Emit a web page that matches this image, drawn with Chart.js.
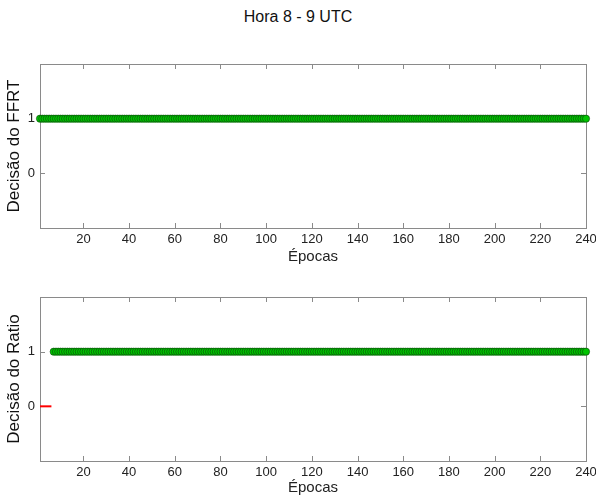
<!DOCTYPE html>
<html>
<head>
<meta charset="utf-8">
<script src="https://cdn.jsdelivr.net/npm/chart.js@4"></script>
<style>
  body { margin: 0; background: #fff; width: 596px; height: 495px; position: relative; overflow: hidden; }
  #titulo { position: absolute; left: 0; top: 8px; width: 596px; text-align: center;
            font: 16px "Liberation Sans", Arial, sans-serif; color: #111; }
  canvas { position: absolute; left: 0; }
</style>
</head>
<body>
<div id="titulo">Hora 8 - 9 UTC</div>
<canvas id="ffrt" width="596" height="270" style="top:0px"></canvas>
<canvas id="ratio" width="596" height="225" style="top:270px"></canvas>
<script>
// epochs 1..240
const epocas = Array.from({ length: 240 }, (_, i) => i + 1);

const decisaoFFRT = [
  1,1,1,1,1,1,1,1,1,1, 1,1,1,1,1,1,1,1,1,1, 1,1,1,1,1,1,1,1,1,1, 1,1,1,1,1,1,1,1,1,1,
  1,1,1,1,1,1,1,1,1,1, 1,1,1,1,1,1,1,1,1,1, 1,1,1,1,1,1,1,1,1,1, 1,1,1,1,1,1,1,1,1,1,
  1,1,1,1,1,1,1,1,1,1, 1,1,1,1,1,1,1,1,1,1, 1,1,1,1,1,1,1,1,1,1, 1,1,1,1,1,1,1,1,1,1,
  1,1,1,1,1,1,1,1,1,1, 1,1,1,1,1,1,1,1,1,1, 1,1,1,1,1,1,1,1,1,1, 1,1,1,1,1,1,1,1,1,1,
  1,1,1,1,1,1,1,1,1,1, 1,1,1,1,1,1,1,1,1,1, 1,1,1,1,1,1,1,1,1,1, 1,1,1,1,1,1,1,1,1,1,
  1,1,1,1,1,1,1,1,1,1, 1,1,1,1,1,1,1,1,1,1, 1,1,1,1,1,1,1,1,1,1, 1,1,1,1,1,1,1,1,1,1
];

const decisaoRatio = [
  0,0,0,0,0,0,1,1,1,1, 1,1,1,1,1,1,1,1,1,1, 1,1,1,1,1,1,1,1,1,1, 1,1,1,1,1,1,1,1,1,1,
  1,1,1,1,1,1,1,1,1,1, 1,1,1,1,1,1,1,1,1,1, 1,1,1,1,1,1,1,1,1,1, 1,1,1,1,1,1,1,1,1,1,
  1,1,1,1,1,1,1,1,1,1, 1,1,1,1,1,1,1,1,1,1, 1,1,1,1,1,1,1,1,1,1, 1,1,1,1,1,1,1,1,1,1,
  1,1,1,1,1,1,1,1,1,1, 1,1,1,1,1,1,1,1,1,1, 1,1,1,1,1,1,1,1,1,1, 1,1,1,1,1,1,1,1,1,1,
  1,1,1,1,1,1,1,1,1,1, 1,1,1,1,1,1,1,1,1,1, 1,1,1,1,1,1,1,1,1,1, 1,1,1,1,1,1,1,1,1,1,
  1,1,1,1,1,1,1,1,1,1, 1,1,1,1,1,1,1,1,1,1, 1,1,1,1,1,1,1,1,1,1, 1,1,1,1,1,1,1,1,1,1
];

const xTicks = [20, 40, 60, 80, 100, 120, 140, 160, 180, 200, 220, 240];
const yTicks = [0, 1];

const FONT = '"Liberation Sans", Arial, sans-serif';
const AXIS = '#8a8a8a';

// box + inward tick marks, drawn under the data like matlab
const boxPlugin = {
  id: 'box',
  beforeDatasetsDraw(chart) {
    const { ctx, chartArea: a, scales } = chart;
    ctx.save();
    ctx.strokeStyle = AXIS;
    ctx.lineWidth = 1;
    ctx.strokeRect(a.left + 0.5, a.top + 0.5, a.right - a.left, a.bottom - a.top);
    ctx.beginPath();
    xTicks.forEach(v => {
      const px = Math.round(scales.x.getPixelForValue(v)) + 0.5;
      ctx.moveTo(px, a.bottom); ctx.lineTo(px, a.bottom - 5);
      ctx.moveTo(px, a.top); ctx.lineTo(px, a.top + 5);
    });
    yTicks.forEach(v => {
      const py = Math.round(scales.y.getPixelForValue(v)) + 0.5;
      ctx.moveTo(a.left, py); ctx.lineTo(a.left + 5, py);
      ctx.moveTo(a.right, py); ctx.lineTo(a.right - 5, py);
    });
    ctx.stroke();
    ctx.restore();
  }
};

function pts(values, keep) {
  const out = [];
  values.forEach((v, i) => { if (keep(v)) out.push({ x: epocas[i], y: v }); });
  return out;
}

function greenSet(data) {
  return {
    type: 'scatter',
    data: data,
    showLine: false,
    pointStyle: 'circle',
    pointRadius: 3.6,
    pointBackgroundColor: '#00c400',
    pointBorderColor: '#0b3d0b',
    pointBorderWidth: 0.6,
    clip: false
  };
}

function makeChart(id, datasets, yTitle, pad, xHeight, titlePadBottom) {
  return new Chart(document.getElementById(id), {
    type: 'scatter',
    data: { datasets: datasets },
    plugins: [boxPlugin],
    options: {
      responsive: false,
      animation: false,
      events: [],
      layout: { padding: pad },
      plugins: { legend: { display: false }, tooltip: { enabled: false } },
      scales: {
        x: {
          type: 'linear', min: 1, max: 240,
          grid: { display: false, drawTicks: false },
          border: { display: false },
          afterBuildTicks: s => { s.ticks = xTicks.map(v => ({ value: v })); },
          afterFit: s => { s.height = xHeight; s.paddingLeft = 0; s.paddingRight = 0; },
          ticks: { padding: 4, color: '#222', maxRotation: 0, font: { family: FONT, size: 13 } },
          title: { display: true, text: 'Épocas', color: '#222',
                   font: { family: FONT, size: 15, lineHeight: 1 },
                   padding: { top: 0, bottom: titlePadBottom } }
        },
        y: {
          type: 'linear', min: -1, max: 2,
          grid: { display: false, drawTicks: false },
          border: { display: false },
          afterBuildTicks: s => { s.ticks = yTicks.map(v => ({ value: v })); },
          afterFit: s => { s.width = 40; s.paddingTop = 0; s.paddingBottom = 0; },
          ticks: { padding: 5, color: '#222', font: { family: FONT, size: 13 } },
          title: { display: true, text: yTitle, color: '#111',
                   font: { family: FONT, size: 17, lineHeight: 1.2 },
                   padding: { top: 4, bottom: 0 } }
        }
      }
    }
  });
}

makeChart('ffrt',
  [greenSet(pts(decisaoFFRT, v => v === 1))],
  'Decisão do FFRT', { top: 64, right: 10, left: 0, bottom: 0 }, 42, 6);

makeChart('ratio',
  [
    {
      type: 'line',
      data: pts(decisaoRatio, v => v === 0),
      borderColor: '#ff0000',
      borderWidth: 2,
      pointRadius: 0,
      clip: false
    },
    greenSet(pts(decisaoRatio, v => v === 1))
  ],
  'Decisão do Ratio', { top: 27, right: 10, left: 0, bottom: 0 }, 34, 0);
</script>
</body>
</html>
